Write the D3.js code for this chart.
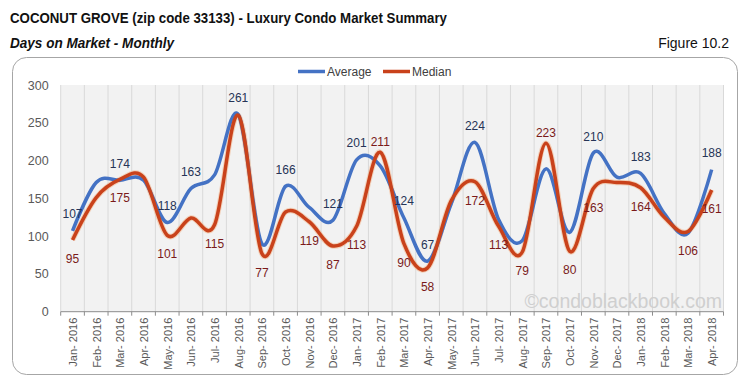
<!DOCTYPE html>
<html>
<head>
<meta charset="utf-8">
<script src="https://cdn.jsdelivr.net/npm/d3@7"></script>
<style>
  html, body { margin: 0; padding: 0; background: #fff; }
  svg { display: block; }
</style>
</head>
<body>
<svg id="chart" width="749" height="390"></svg>
<script>
const months = ["Jan- 2016","Feb- 2016","Mar- 2016","Apr- 2016","May- 2016","Jun- 2016","Jul- 2016","Aug- 2016","Sep- 2016","Oct- 2016","Nov- 2016","Dec- 2016",
  "Jan- 2017","Feb- 2017","Mar- 2017","Apr- 2017","May- 2017","Jun- 2017","Jul- 2017","Aug- 2017","Sep- 2017","Oct- 2017","Nov- 2017","Dec- 2017",
  "Jan- 2018","Feb- 2018","Mar- 2018","Apr- 2018"];
const average = [107,171,174,174,118,163,181,261,90,166,138,121,201,193,124,67,143,224,122,94,189,105,210,178,183,130,104,188];
const median  = [95,151,175,178,101,124,115,260,77,132,119,87,113,211,90,58,147,172,113,79,223,80,163,171,164,125,106,161];
const yTicks = [0,50,100,150,200,250,300];
const avgLabeled = [0,2,4,5,7,9,11,12,14,15,17,22,24,27];
const medLabeledBelow = [0,2,4,6,8,10,11,12,14,15,17,18,19,21,22,24,26,27];
const medLabeledAbove = [13,20];
const seriesNames = ["Average","Median"];

const svg = d3.select("#chart");
const FONT = "'Liberation Sans', Arial, sans-serif";
const NARROW = "'Liberation Sans Narrow', 'Arial Narrow', 'Liberation Sans', sans-serif";

// titles
svg.append("text").attr("x", 10).attr("y", 23)
  .attr("font-family", NARROW).attr("font-weight", "bold").attr("font-size", 15)
  .attr("textLength", 437).attr("lengthAdjust", "spacingAndGlyphs")
  .attr("fill", "#111").text("COCONUT GROVE (zip code 33133) - Luxury Condo Market Summary");
svg.append("text").attr("x", 10).attr("y", 48)
  .attr("font-family", NARROW).attr("font-weight", "bold").attr("font-style", "italic").attr("font-size", 14)
  .attr("textLength", 164).attr("lengthAdjust", "spacingAndGlyphs")
  .attr("fill", "#111").text("Days on Market - Monthly");
svg.append("text").attr("x", 729).attr("y", 48).attr("text-anchor", "end")
  .attr("font-family", NARROW).attr("font-size", 14)
  .attr("fill", "#111").text("Figure 10.2");

// frame
svg.append("rect").attr("x", 12.5).attr("y", 57.5).attr("width", 725).attr("height", 317)
  .attr("rx", 14).attr("fill", "#fff").attr("stroke", "#a6a6a6").attr("stroke-width", 1);

const x0 = 60.7, x1 = 723.5, yTop = 85, yBot = 311.7;
const x = d3.scaleBand().domain(months).range([x0, x1]).padding(0);
const y = d3.scaleLinear().domain([0, 300]).range([yBot, yTop]);
const cx = i => x(months[i]) + x.bandwidth() / 2;

// plot bg
svg.append("rect").attr("x", x0).attr("y", yTop).attr("width", x1 - x0).attr("height", yBot - yTop).attr("fill", "#f2f2f2");

// vertical gridlines at category boundaries
const bounds = months.map(m => x(m)).concat([x1]);
svg.append("g").selectAll("line").data(bounds).join("line")
  .attr("x1", d => d).attr("x2", d => d).attr("y1", yTop).attr("y2", yBot)
  .attr("stroke", "#d9d9d9").attr("stroke-width", 1);

// y axis labels
const yAxis = d3.axisLeft(y).tickValues(yTicks).tickSize(0).tickPadding(12);
const gy = svg.append("g").attr("transform", `translate(${x0},0)`).call(yAxis);
gy.select(".domain").remove();
gy.selectAll("text").attr("font-family", FONT).attr("font-size", 12.5).attr("fill", "#595959");

// x axis
const gx = svg.append("g").attr("transform", `translate(0,${yBot})`);
gx.append("line").attr("x1", x0).attr("x2", x1).attr("y1", 0).attr("y2", 0).attr("stroke", "#8c8c8c");
gx.selectAll("line.tk").data(bounds).join("line").attr("class", "tk")
  .attr("x1", d => d).attr("x2", d => d).attr("y1", 0).attr("y2", 4).attr("stroke", "#8c8c8c");
gx.selectAll("text").data(months).join("text")
  .attr("transform", (d, i) => `translate(${cx(i) + 0.5},${6}) rotate(-90)`)
  .attr("text-anchor", "end").attr("dy", "0.35em")
  .attr("font-family", FONT).attr("font-size", 11).attr("fill", "#595959")
  .text(d => d);

// watermark
svg.append("text").attr("x", 722).attr("y", 308).attr("text-anchor", "end")
  .attr("font-family", FONT).attr("font-size", 19.5).attr("fill", "#cfcfcf")
  .text("\u00a9condoblackbook.com");

// lines
const line = d3.line().x((d, i) => cx(i)).y(d => y(d)).curve(d3.curveCardinal.tension(0));
const colors = { Average: "#4472c4", Median: "#c9421b" };
svg.append("path").datum(median).attr("d", line).attr("fill", "none")
  .attr("stroke", "#f4b183").attr("stroke-opacity", 0.5).attr("stroke-width", 5.5);
svg.append("path").datum(average).attr("d", line).attr("fill", "none")
  .attr("stroke", colors.Average).attr("stroke-width", 3.5).attr("stroke-linejoin", "round");
svg.append("path").datum(median).attr("d", line).attr("fill", "none")
  .attr("stroke", colors.Median).attr("stroke-width", 3.5).attr("stroke-linejoin", "round");

// data labels
const lab = svg.append("g").attr("font-family", FONT).attr("font-size", 12).attr("text-anchor", "middle");
lab.selectAll("text.a").data(avgLabeled).join("text").attr("class", "a")
  .attr("x", i => cx(i)).attr("y", i => y(average[i]) - 12.5).attr("fill", "#263456").text(i => average[i]);
lab.selectAll("text.mb").data(medLabeledBelow).join("text").attr("class", "mb")
  .attr("x", i => cx(i)).attr("y", i => y(median[i]) + 23).attr("fill", "#7a1a1a").text(i => median[i]);
lab.selectAll("text.ma").data(medLabeledAbove).join("text").attr("class", "ma")
  .attr("x", i => cx(i)).attr("y", i => y(median[i]) - 6).attr("fill", "#7a1a1a").text(i => median[i]);

// legend
const legX = [298, 383];
const leg = svg.append("g");
seriesNames.forEach((n, k) => {
  leg.append("line").attr("x1", legX[k]).attr("x2", legX[k] + 27).attr("y1", 71.5).attr("y2", 71.5)
    .attr("stroke", colors[n]).attr("stroke-width", 3.5);
  leg.append("text").attr("x", legX[k] + 29).attr("y", 71.5).attr("dy", "0.35em")
    .attr("font-family", FONT).attr("font-size", 12).attr("fill", "#404040").text(n);
});
</script>
</body>
</html>
